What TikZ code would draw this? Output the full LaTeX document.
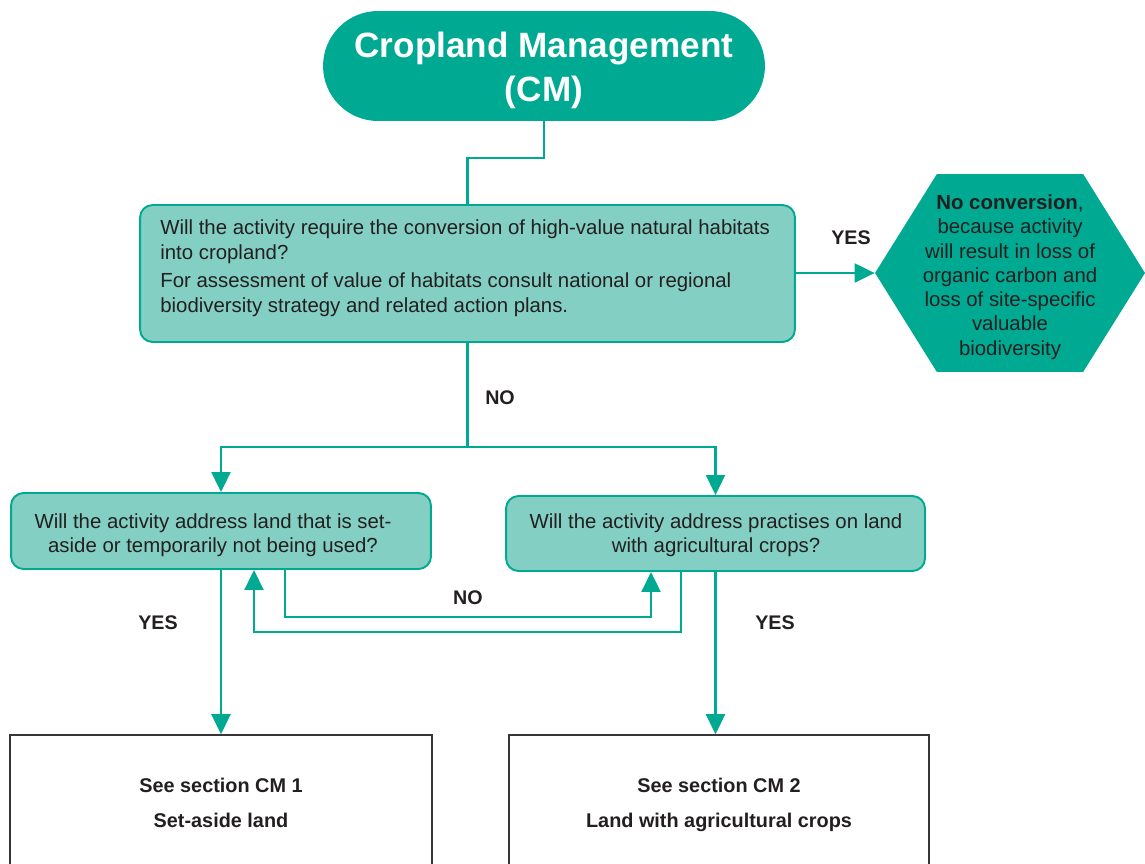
\documentclass[tikz,border=0pt]{standalone}
\usepackage{fontspec}
\setmainfont{Liberation Sans}
\usetikzlibrary{arrows.meta,shapes.symbols}
\definecolor{cmteal}{HTML}{00AA92}
\definecolor{cmlight}{HTML}{83CFC3}
\definecolor{ink}{HTML}{231F20}
\begin{document}
\begin{tikzpicture}[x=0.02cm,y=-0.02cm,
  base/.style={inner sep=0pt, text=ink},
  body/.style={font=\fontsize{11.6}{13.9}\selectfont},
  lbl/.style={font=\bfseries\fontsize{11.2}{13}\selectfont, text=ink, inner sep=0pt},
  qbox/.style={draw=cmteal, fill=cmlight, line width=1.1pt, rounded corners=0.25cm, inner sep=0pt},
  outbox/.style={draw=ink!90, line width=0.9pt, inner sep=0pt, align=center, text=ink,
    font=\bfseries\fontsize{11.3}{19.8}\selectfont},
  link/.style={draw=cmteal, line width=1.2pt},
  arr/.style={link, -{Triangle[length=0.4cm,width=0.38cm]}}
]
\useasboundingbox (0,0) rectangle (1145,863);
\clip (0,0) rectangle (1145,863);

% start terminal
\node[fill=cmteal, rounded corners=1.1cm, minimum width=8.84cm, minimum height=2.2cm,
  inner sep=0pt] (top) at (544,66) {};
\node[inner sep=0pt, text=white, align=center, font=\bfseries\fontsize{20}{25}\selectfont]
  (topt) at (544,70.5) {Cropland Management\\(CM)};

% first question
\node[qbox, minimum width=13.1cm, minimum height=2.74cm] (q1) at (467.5,273.5) {};
\node[base, align=left, anchor=west, font=\fontsize{11.6}{14.2}\selectfont] (q1t) at (160,268.5)
  {Will the activity require the conversion of high-value natural habitats\\
   into cropland?\\[1.7pt]
   For assessment of value of habitats consult national or regional\\
   biodiversity strategy and related action plans.};

% outcome hexagon
\node[signal, signal to=west and east, signal pointer angle=116, fill=cmteal,
  minimum width=5.4cm, minimum height=3.96cm, inner sep=0pt] (hex) at (1010,273) {};
\node[base, align=center, font=\fontsize{11.6}{13.8}\selectfont] (hext) at (1010,277)
  {\textbf{No conversion},\\because activity\\will result in loss of\\organic carbon and\\
   loss of site-specific\\valuable\\biodiversity};

% second-level questions
\node[qbox, minimum width=8.4cm, minimum height=1.52cm] (q2) at (221,531) {};
\node[base, body, align=center] (q2t) at (213,535)
  {Will the activity address land that is set-\\aside or temporarily not being used?};
\node[qbox, minimum width=8.38cm, minimum height=1.5cm] (q3) at (715.5,533.5) {};
\node[base, body, align=center] (q3t) at (716,535)
  {Will the activity address practises on land\\with agricultural crops?};

% section references
\node[outbox, minimum width=8.44cm, minimum height=2.78cm] (r1) at (221,804.5)
  {See section CM 1\\Set-aside land\vphantom{g}};
\node[outbox, minimum width=8.4cm, minimum height=2.78cm] (r2) at (719,804.5)
  {See section CM 2\\Land with agricultural crops};

% labels
\node[lbl] (yes1) at (851,238) {YES};
\node[lbl] (no1) at (500,398) {NO};
\node[lbl] (no2) at (468,598) {NO};
\node[lbl] (yes2) at (158,623) {YES};
\node[lbl] (yes3) at (775,623) {YES};

% connectors
\draw[link] (top.south) -- ++(0,37) -| (q1.north);
\draw[arr] (q1.east |- hex.west) -- (hex.west);
\draw[link] (q1.south) -- ++(0,104) coordinate (split);
\draw[arr] (split) -| (q2.north);
\draw[arr] (split) -| (q3.north);
\draw[arr] ([xshift=1.28cm]q2.south) -- ++(0,47) -| ([xshift=-1.29cm]q3.south);
\draw[arr] ([xshift=-0.69cm]q3.south) -- ++(0,60) -| ([xshift=0.66cm]q2.south);
\draw[arr] (q2.south) -- (r1.north);
\draw[arr] (q3.south) -- (q3.south |- r2.north);
\end{tikzpicture}
\end{document}
